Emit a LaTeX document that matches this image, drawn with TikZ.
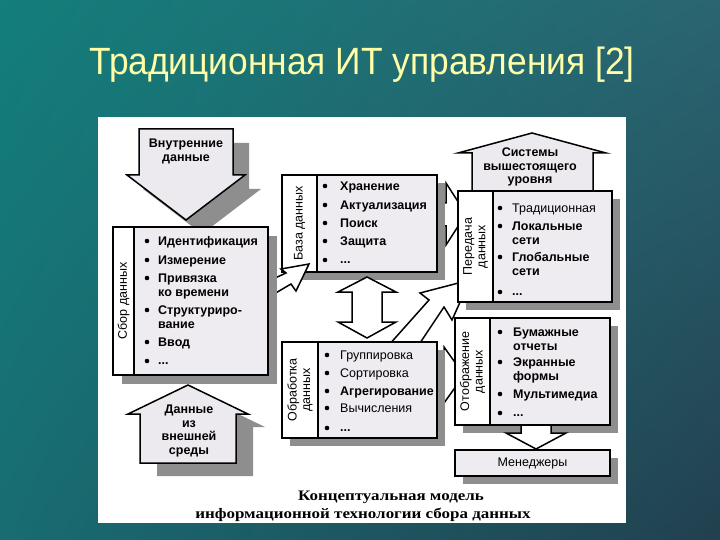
\documentclass[tikz,border=0pt]{standalone}
\usepackage{fontspec}
\setmainfont{Liberation Sans}
\newfontfamily\capfont[FakeStretch=1.17]{Liberation Serif}
\newfontfamily\titlefont[FakeStretch=0.93]{Liberation Sans}
\usetikzlibrary{shadings}
\pgfdeclarelayer{bg}\pgfdeclarelayer{back}\pgfdeclarelayer{shad}\pgfdeclarelayer{mid}\pgfdeclarelayer{front}\pgfdeclarelayer{top}
\pgfsetlayers{bg,back,shad,mid,main,front,top}
\definecolor{shadowgray}{HTML}{8E8E8E}
\definecolor{boxfill}{HTML}{EEECF1}
\definecolor{arrowfill}{HTML}{ECEAEF}
\definecolor{titleyellow}{HTML}{FFFFA8}
\definecolor{bgUL}{HTML}{137E7B}
\definecolor{bgUR}{HTML}{2A6571}
\definecolor{bgLL}{HTML}{186C72}
\definecolor{bgLR}{HTML}{22404F}
\tikzset{
 outl/.style={draw=black, line width=1.5pt, line join=miter, miter limit=8},
 listbox/.style={outl, fill=boxfill, rectangle, inner sep=0pt, outer sep=0pt, anchor=north west},
 labcol/.style={outl, fill=white, rectangle, inner sep=0pt, outer sep=0pt, anchor=north west},
 labtext/.style={rotate=90, font=\fontsize{12.5}{13.5}\selectfont, align=center, inner sep=0pt},
 itm/.style={anchor=base west, inner sep=0pt, font=\fontsize{12.5}{13.5}\selectfont\bfseries},
 itmr/.style={itm, font=\fontsize{12.5}{13.5}\selectfont},
 arrowtext/.style={align=center, inner sep=0pt, font=\fontsize{12.5}{14}\selectfont\bfseries},
 blockarrow/.style={outl, fill=arrowfill},
 whitearrow/.style={outl, fill=white},
 shadowfill/.style={fill=shadowgray},
 bulletdot/.style={circle, fill=black, inner sep=0pt, minimum size=4.6pt},
}
\newcommand{\bul}[3]{\node[bulletdot] (#1) at (#2,#3) {};}
\newcommand{\itline}[4]{\node[itm] (#1) at (#2,#3) {#4};}
\newcommand{\itliner}[4]{\node[itmr] (#1) at (#2,#3) {#4};}
\newcommand{\shadowof}[2]{\fill[shadowfill] ([shift={(#2,#2)}]#1.north west) rectangle ([shift={(#2,#2)}]#1.south east);}
\begin{document}
\begin{tikzpicture}[x=1pt,y=-1pt]
\useasboundingbox (0,0) rectangle (720,540);
% ---------------- background
\begin{pgfonlayer}{bg}
\shade[upper left=bgUL, upper right=bgUR, lower left=bgLL, lower right=bgLR] (0,0) rectangle (720,540);
\node[anchor=base, inner sep=0pt, text=titleyellow, font=\fontsize{38}{42}\selectfont\titlefont] (title) at (362,75) {Традиционная ИТ управления [2]};
\node[fill=white, draw=none, anchor=north west, minimum width=528pt, minimum height=406pt, inner sep=0pt, outer sep=0pt] (panel) at (98,117) {};
\node[anchor=base, inner sep=0pt, font=\fontsize{14.5}{16}\selectfont\capfont\bfseries] (cap1) at (391,500) {Концептуальная модель};
\node[anchor=base, inner sep=0pt, font=\fontsize{14.5}{16}\selectfont\capfont\bfseries] (cap2) at (363,518) {информационной технологии сбора данных};
\end{pgfonlayer}
% ---------------- boxes (main layer)
\node[listbox, minimum width=155pt, minimum height=97pt] (baza) at (282,175) {};
\node[labcol, minimum width=35pt, minimum height=97pt] (bazalab) at (282,175) {};
\node[labtext] (bazat) at (bazalab.center) {База данных};
\node[listbox, minimum width=154pt, minimum height=111pt] (pered) at (458,191) {};
\node[labcol, minimum width=35pt, minimum height=111pt] (peredlab) at (458,191) {};
\node[labtext] (peredt) at (peredlab.center) {Передача\\данных};
\node[listbox, minimum width=155pt, minimum height=107pt] (otobr) at (455,318) {};
\node[labcol, minimum width=35pt, minimum height=107pt] (otobrlab) at (455,318) {};
\node[labtext] (otobrt) at (otobrlab.center) {Отображение\\данных};
\node[listbox, minimum width=155pt, minimum height=96pt] (obrab) at (282,342) {};
\node[labcol, minimum width=36pt, minimum height=96pt] (obrablab) at (282,342) {};
\node[labtext] (obrabt) at (obrablab.center) {Обработка\\данных};
\node[listbox, minimum width=155pt, minimum height=26pt, font=\fontsize{12.5}{14}\selectfont] (menedg) at (455,450) {};
\node[inner sep=0pt, font=\fontsize{12.5}{14}\selectfont] (menedgt) at (menedg.center) {Менеджеры};
% items: База данных
\bul{bb1}{325}{186}\itline{bt1}{340}{190.5}{Хранение}
\bul{bb2}{325}{205}\itline{bt2}{340}{209.5}{Актуализация}
\bul{bb3}{325}{223}\itline{bt3}{340}{227.5}{Поиск}
\bul{bb4}{325}{241}\itline{bt4}{340}{245.5}{Защита}
\bul{bb5}{325}{260}\itline{bt5}{340}{263}{...}
% items: Передача данных
\bul{pb1}{500}{208}\itliner{pt1}{512}{212.5}{Традиционная}
\bul{pb2}{500}{226}\itline{pt2}{512}{230.5}{Локальные}
\itline{pt3}{512}{244}{сети}
\bul{pb3}{500}{257}\itline{pt4}{512}{261.5}{Глобальные}
\itline{pt5}{512}{275}{сети}
\bul{pb4}{500}{292}\itline{pt6}{512}{295}{...}
% items: Отображение данных
\bul{ob1}{500}{332}\itline{ot1}{513}{336.5}{Бумажные}
\itline{ot2}{513}{350}{отчеты}
\bul{ob2}{500}{362}\itline{ot3}{513}{366.5}{Экранные}
\itline{ot4}{513}{380}{формы}
\bul{ob3}{500}{394}\itline{ot5}{513}{398.5}{Мультимедиа}
\bul{ob4}{500}{413}\itline{ot6}{513}{416}{...}
% items: Обработка данных
\bul{rb1}{327}{355}\itliner{rt1}{340}{359.5}{Группировка}
\bul{rb2}{327}{373}\itliner{rt2}{340}{377.5}{Сортировка}
\bul{rb3}{327}{391}\itline{rt3}{340}{395.5}{Агрегирование}
\bul{rb4}{327}{408}\itliner{rt4}{340}{412.5}{Вычисления}
\bul{rb5}{327}{428}\itline{rt5}{340}{431}{...}
% ---------------- Сбор данных (top layer)
\begin{pgfonlayer}{top}
\node[listbox, minimum width=155pt, minimum height=148pt] (sbor) at (113,227) {};
\node[labcol, minimum width=21pt, minimum height=148pt] (sborlab) at (113,227) {};
\node[labtext] (sbort) at (sborlab.center) {Сбор данных};
\bul{sb1}{147}{241}\itline{st1}{158}{245.5}{Идентификация}
\bul{sb2}{147}{260}\itline{st2}{158}{264.5}{Измерение}
\bul{sb3}{147}{278}\itline{st3}{158}{282.5}{Привязка}
\itline{st4}{158}{296}{ко времени}
\bul{sb4}{147}{310}\itline{st5}{158}{314.5}{Структуриро-}
\itline{st6}{158}{328}{вание}
\bul{sb5}{147}{342}\itline{st7}{158}{346.5}{Ввод}
\bul{sb6}{147}{361}\itline{st8}{158}{364}{...}
\end{pgfonlayer}
\begin{pgfonlayer}{front}
% arrow Сбор -> База (tail behind the shadow of Сбор данных)
\draw[whitearrow] (262,284) -- (286,273) -- (281,269) -- (309,264) -- (296,291) -- (291,284) -- (262,301) -- cycle;
\shadowof{sbor}{9}
\end{pgfonlayer}
% ---------------- shadows
\begin{pgfonlayer}{shad}
\shadowof{baza}{8}
\shadowof{pered}{8}
\shadowof{otobr}{8}
\shadowof{obrab}{8}
\shadowof{menedg}{8}
\begin{scope}[shift={(16,14)}]
\fill[shadowfill] (139,129) -- (233,129) -- (233,175) -- (245,175) -- (186,220) -- (127,175) -- (139,175) -- cycle;
\end{scope}
\begin{scope}[shift={(17,13)}]
\fill[shadowfill] (188,385) -- (248,414) -- (236,414) -- (236,463) -- (140,463) -- (140,414) -- (128,414) -- cycle;
\end{scope}
\end{pgfonlayer}
% ---------------- block arrows
\begin{pgfonlayer}{mid}
\draw[blockarrow] (139,129) -- (233,129) -- (233,175) -- (245,175) -- (186,220) -- (127,175) -- (139,175) -- cycle;
\node[arrowtext] (vnutr) at (186,151) {Внутренние\\данные};
\draw[blockarrow] (188,385) -- (248,414) -- (236,414) -- (236,463) -- (140,463) -- (140,414) -- (128,414) -- cycle;
\node[arrowtext, font=\fontsize{12.5}{13.7}\selectfont\bfseries] (vnesh) at (189,431) {Данные\\из\\внешней\\среды};
\draw[blockarrow] (532,133) -- (606,153) -- (593,153) -- (593,192) -- (472,192) -- (472,153) -- (458,153) -- cycle;
\node[arrowtext, font=\fontsize{12.5}{13.5}\selectfont\bfseries] (sist) at (530,167) {Системы\\вышестоящего\\уровня};
% double arrow База <-> Обработка
\draw[whitearrow] (367,277) -- (396,292) -- (382,292) -- (382,322) -- (396,322) -- (367,338) -- (338,322) -- (352,322) -- (352,292) -- (338,292) -- cycle;
% arrow Отображение -> Менеджеры
\draw[whitearrow] (521,420) -- (551,420) -- (551,433) -- (566,433) -- (536,449) -- (506,433) -- (521,433) -- cycle;
\end{pgfonlayer}
% ---------------- arrows behind
\begin{pgfonlayer}{back}
\draw[whitearrow] (420,203) -- (446,203) -- (446,183) -- (466,214) -- (446,245) -- (446,226) -- (420,226) -- cycle;
\draw[whitearrow] (420,364) -- (444,364) -- (444,347) -- (464,375) -- (444,403) -- (444,386) -- (420,386) -- cycle;
\draw[whitearrow] (388,346) -- (429,300) -- (420,293) -- (470,280) -- (452,320) -- (444,307) -- (418,346) -- cycle;
\end{pgfonlayer}
\end{tikzpicture}
\end{document}
